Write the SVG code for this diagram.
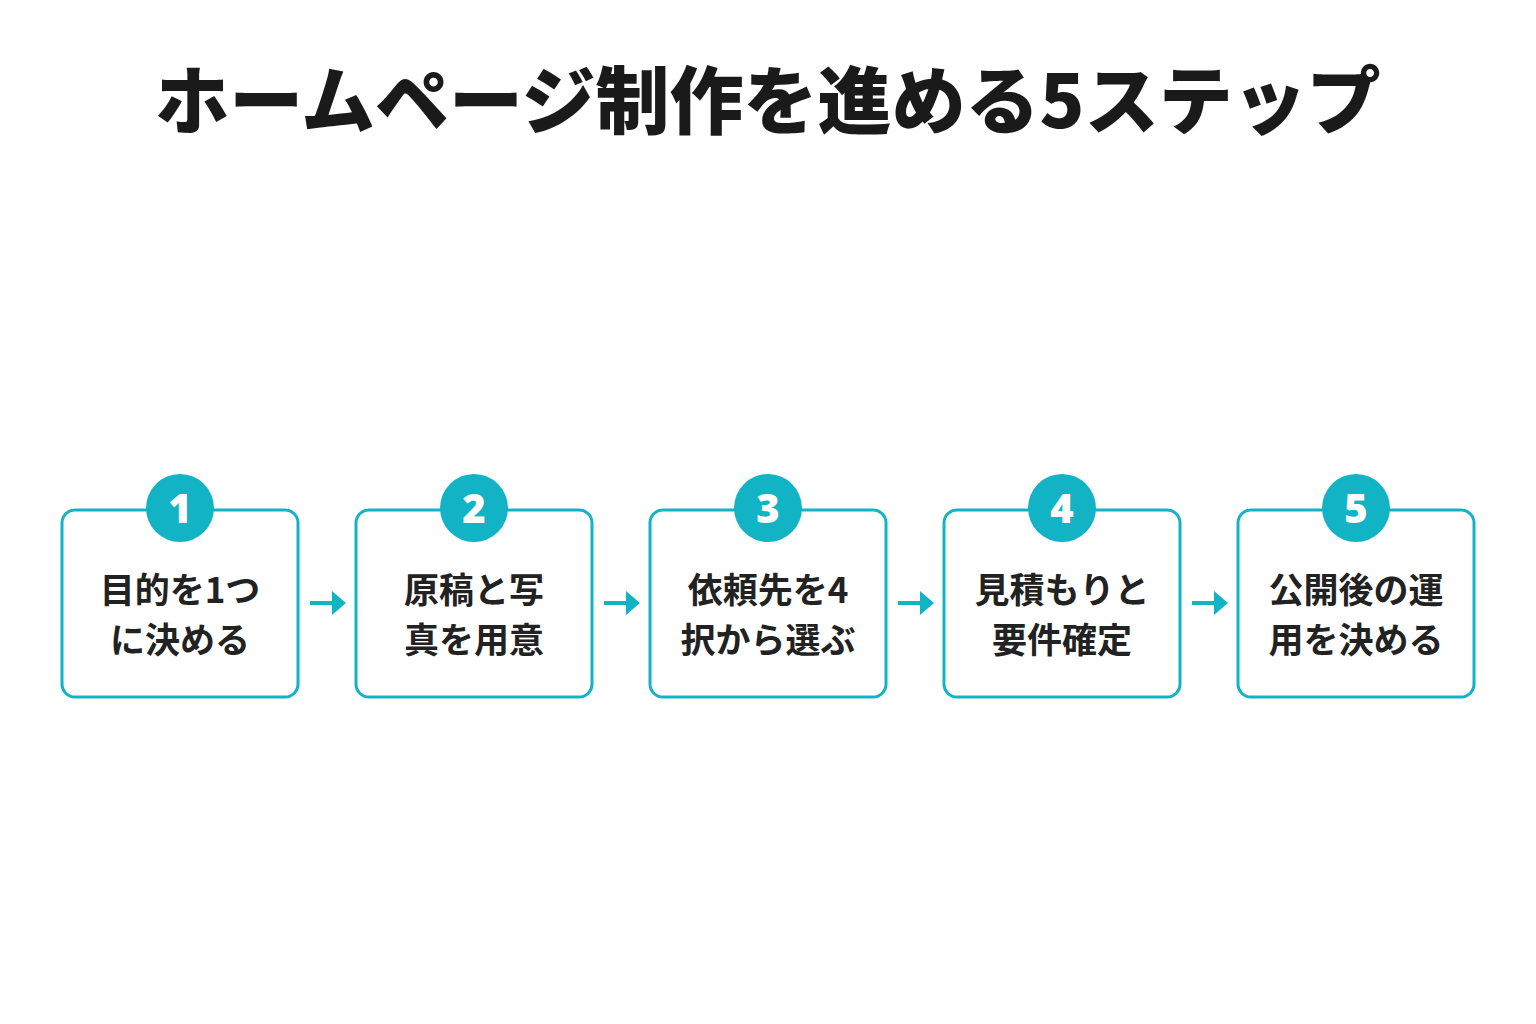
<svg xmlns="http://www.w3.org/2000/svg" width="1536" height="1024" viewBox="0 0 1536 1024">
<style>
.box{fill:#fff;stroke:#13B3C6;stroke-width:3}
.c{fill:#13B3C6}
.n{font-family:"Noto Sans","Noto Sans CJK JP",sans-serif;font-weight:900;font-size:40px;fill:#fff;text-anchor:middle}
.t{font-family:"Noto Sans CJK JP",sans-serif;font-weight:700;font-size:35px;fill:#222;text-anchor:middle}
.ttl{font-family:"Noto Sans CJK JP",sans-serif;font-weight:900;font-size:74px;fill:#1a1a1a;text-anchor:middle}
.ln{stroke:#13B3C6;stroke-width:4}
</style>
<rect width="1536" height="1024" fill="#fff"/>
<text class="ttl" x="768" y="128">ホームページ制作を進める5ステップ</text>
<g id="connectors">
<g><line class="ln" x1="310" y1="603" x2="334" y2="603"/><path class="c" d="M332 591 L346 603 L332 615Z"/></g>
<g><line class="ln" x1="604" y1="603" x2="628" y2="603"/><path class="c" d="M626 591 L640 603 L626 615Z"/></g>
<g><line class="ln" x1="898" y1="603" x2="922" y2="603"/><path class="c" d="M920 591 L934 603 L920 615Z"/></g>
<g><line class="ln" x1="1192" y1="603" x2="1216" y2="603"/><path class="c" d="M1214 591 L1228 603 L1214 615Z"/></g>
</g>
<g id="step1"><rect class="box" x="62" y="510" width="236" height="187" rx="13"/><circle class="c" cx="180" cy="508" r="34"/><text class="n" x="180" y="523">1</text><text class="t" x="180" y="603">目的を1つ</text><text class="t" x="180" y="653">に決める</text></g>
<g id="step2"><rect class="box" x="356" y="510" width="236" height="187" rx="13"/><circle class="c" cx="474" cy="508" r="34"/><text class="n" x="474" y="523">2</text><text class="t" x="474" y="603">原稿と写</text><text class="t" x="474" y="653">真を用意</text></g>
<g id="step3"><rect class="box" x="650" y="510" width="236" height="187" rx="13"/><circle class="c" cx="768" cy="508" r="34"/><text class="n" x="768" y="523">3</text><text class="t" x="768" y="603">依頼先を4</text><text class="t" x="768" y="653">択から選ぶ</text></g>
<g id="step4"><rect class="box" x="944" y="510" width="236" height="187" rx="13"/><circle class="c" cx="1062" cy="508" r="34"/><text class="n" x="1062" y="523">4</text><text class="t" x="1062" y="603">見積もりと</text><text class="t" x="1062" y="653">要件確定</text></g>
<g id="step5"><rect class="box" x="1238" y="510" width="236" height="187" rx="13"/><circle class="c" cx="1356" cy="508" r="34"/><text class="n" x="1356" y="523">5</text><text class="t" x="1356" y="603">公開後の運</text><text class="t" x="1356" y="653">用を決める</text></g>
</svg>
